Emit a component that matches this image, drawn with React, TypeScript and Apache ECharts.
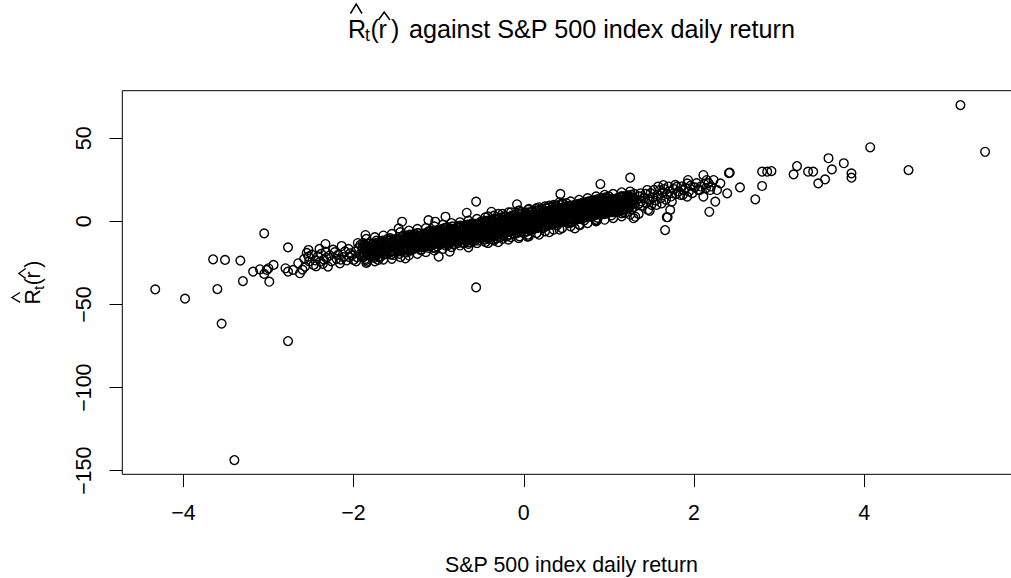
import { useEffect, useRef } from "react";
import * as echarts from "echarts";

// ---- axis ticks / texts ----
const xTicks = [-4, -2, 0, 2, 4];
const yTicks = [-150, -100, -50, 0, 50];
const titleRest = "against S&P 500 index daily return";
const xAxisTitle = "S&P 500 index daily return";

// ---- data: [S&P 500 daily return, R_hat_t(r_hat)] ----
const leftTail = [
  [-4.33, -40.9], [-3.98, -46.5], [-3.6, -40.7], [-3.55, -61.5], [-3.65, -22.8], [-3.51, -23.2],
  [-3.33, -23.6], [-3.3, -35.9], [-3.05, -7.2], [-3.18, -30.2], [-3.1, -28.8], [-3.02, -29.2],
  [-3.0, -28.2], [-2.94, -26.2], [-2.99, -36.3], [-3.05, -31.6], [-2.77, -15.6], [-2.77, -72.0],
  [-2.8, -28.2], [-2.77, -30.2], [-2.71, -29.2], [-2.63, -31.2], [-2.65, -25.2], [-2.53, -17.2],
  [-2.53, -21.2], [-2.57, -27.2], [-2.47, -26.2], [-2.39, -24.2], [-2.33, -13.6], [-2.33, -18.2],
  [-2.3, -27.2], [-2.16, -25.2], [-2.14, -14.8], [-2.04, -19.2], [-2.0, -23.2], [-1.92, -14.2],
  [-1.86, -8.2], [-1.84, -24.2], [-1.71, -23.2], [-1.43, -0.2], [-1.47, -4.2], [-1.39, -22.2],
  [-3.4, -143.6],
];

const leftBand = [
  [-2.58, -22.5], [-2.52, -24], [-2.49, -20], [-2.45, -23.5], [-2.42, -21], [-2.38, -19.5],
  [-2.36, -25.5], [-2.32, -22], [-2.28, -20.5], [-2.26, -24], [-2.22, -18.5], [-2.2, -22.5],
  [-2.18, -20], [-2.12, -21.5], [-2.1, -18], [-2.08, -23.5], [-2.06, -16.5], [-2.02, -20.5],
  [-1.98, -18], [-1.96, -21.5], [-1.94, -16], [-1.92, -19.5],
  [-2.55, -19], [-2.44, -27], [-2.35, -23], [-2.24, -17], [-2.15, -23], [-2.05, -21.5],
  [-1.97, -24], [-1.95, -13], [-2.4, -16.5], [-2.6, -29],
];

const coreLow = [
  [-1.9, -21], [-1.9, -16], [-1.88, -19], [-1.88, -14.5], [-1.86, -22.5], [-1.86, -17], [-1.84, -15],
  [-1.84, -20], [-1.82, -18.5], [-1.82, -13.5], [-1.8, -21], [-1.8, -16.5], [-1.78, -14], [-1.78, -19.5],
  [-1.76, -17], [-1.76, -22], [-1.74, -13], [-1.74, -18.5], [-1.72, -20], [-1.72, -15.5], [-1.7, -17.5],
  [-1.7, -12.5], [-1.7, -21], [-1.68, -14.5], [-1.68, -19], [-1.66, -16.5], [-1.66, -11.5], [-1.64, -20],
  [-1.64, -14], [-1.62, -17], [-1.62, -12.5], [-1.62, -19.5], [-1.6, -15], [-1.6, -10.5], [-1.58, -18.5],
  [-1.58, -13], [-1.56, -16], [-1.56, -11], [-1.56, -20], [-1.54, -14], [-1.54, -17.5], [-1.52, -12],
  [-1.52, -19], [-1.52, -15.5], [-1.5, -16.5], [-1.5, -10.5], [-1.48, -13.5], [-1.48, -18], [-1.46, -11],
  [-1.46, -15.5], [-1.46, -19.5], [-1.44, -14], [-1.44, -9.5], [-1.42, -17], [-1.42, -12], [-1.4, -15],
  [-1.4, -10], [-1.4, -18.5],
  [-1.38, -11.5], [-1.38, -15.5], [-1.38, -8.5], [-1.36, -13.5], [-1.36, -17], [-1.36, -10], [-1.34, -12],
  [-1.34, -15], [-1.34, -8], [-1.32, -10.5], [-1.32, -14], [-1.32, -17.5], [-1.3, -13], [-1.3, -9],
  [-1.3, -16], [-1.28, -11], [-1.28, -14.5], [-1.28, -7.5], [-1.26, -12.5], [-1.26, -16], [-1.26, -9.5],
  [-1.24, -10], [-1.24, -13.5], [-1.24, -15.5], [-1.24, -7], [-1.22, -12], [-1.22, -8.5], [-1.22, -15],
  [-1.2, -10.5], [-1.2, -14], [-1.2, -17], [-1.18, -12], [-1.18, -8], [-1.18, -15.5], [-1.16, -9.5],
  [-1.16, -13], [-1.16, -11], [-1.14, -14.5], [-1.14, -7], [-1.14, -10.5], [-1.12, -12], [-1.12, -9],
  [-1.12, -16], [-1.12, -6], [-1.1, -10.5], [-1.1, -13.5], [-1.1, -8], [-1.08, -11.5], [-1.08, -7.5],
  [-1.08, -14.5], [-1.06, -9], [-1.06, -12.5], [-1.06, -16], [-1.04, -10.5], [-1.04, -6.5], [-1.04, -13.5],
  [-1.02, -8], [-1.02, -11.5], [-1.02, -15], [-1.02, -5.5], [-1.0, -10], [-1.0, -13], [-1.0, -7],
];

const coreMidLeft = [
  [-0.98, -8.5], [-0.98, -11.5], [-0.98, -5.5], [-0.98, -14], [-0.96, -10], [-0.96, -7], [-0.96, -12.5],
  [-0.96, -4.5], [-0.94, -9], [-0.94, -13], [-0.94, -6], [-0.94, -11], [-0.92, -7.5], [-0.92, -10.5],
  [-0.92, -4], [-0.92, -14.5], [-0.9, -9], [-0.9, -12], [-0.9, -6.5], [-0.9, -3.5], [-0.88, -10.5],
  [-0.88, -7.5], [-0.88, -13], [-0.88, -5], [-0.86, -8], [-0.86, -11], [-0.86, -4.5], [-0.86, -12.5],
  [-0.84, -9.5], [-0.84, -6.5], [-0.84, -12], [-0.84, -3], [-0.82, -7], [-0.82, -10], [-0.82, -13.5],
  [-0.82, -5], [-0.8, -8.5], [-0.8, -11.5], [-0.8, -4.5], [-0.8, -6], [-0.78, -9.5], [-0.78, -6.5],
  [-0.78, -13], [-0.78, -3.5], [-0.76, -7], [-0.76, -10.5], [-0.76, -4], [-0.76, -12], [-0.74, -8.5],
  [-0.74, -5.5], [-0.74, -11], [-0.74, -2.5], [-0.72, -6.5], [-0.72, -9.5], [-0.72, -12.5], [-0.72, -4],
  [-0.7, -8], [-0.7, -5], [-0.7, -10.5], [-0.7, -2.5], [-0.7, -13], [-0.68, -7], [-0.68, -9.5],
  [-0.68, -4], [-0.68, -11.5], [-0.66, -5.5], [-0.66, -8.5], [-0.66, -2], [-0.66, -10], [-0.64, -7],
  [-0.64, -10.5], [-0.64, -4], [-0.64, -12.5], [-0.62, -5.5], [-0.62, -8], [-0.62, -2.5], [-0.62, -9.5],
  [-0.6, -7], [-0.6, -4], [-0.6, -10], [-0.6, -1.5], [-0.6, -12], [-0.58, -6], [-0.58, -8.5],
  [-0.58, -3], [-0.58, -10.5], [-0.56, -4.5], [-0.56, -7.5], [-0.56, -1.5], [-0.56, -9], [-0.54, -6],
  [-0.54, -9], [-0.54, -3], [-0.54, -11.5], [-0.52, -4.5], [-0.52, -7], [-0.52, -1], [-0.52, -8.5],
  [-0.5, -5.5], [-0.5, -8], [-0.5, -2.5], [-0.5, -10], [-0.5, 0],
];

const coreCenter = [
  [-0.48, -4], [-0.48, -7], [-0.48, -1.5], [-0.48, -9.5], [-0.48, -5.5], [-0.46, -6], [-0.46, -3],
  [-0.46, -8.5], [-0.46, 0], [-0.46, -11], [-0.44, -4.5], [-0.44, -7.5], [-0.44, -2], [-0.44, -9],
  [-0.44, -5], [-0.42, -3], [-0.42, -6], [-0.42, -8], [-0.42, 0.5], [-0.42, -10.5], [-0.4, -4.5],
  [-0.4, -1.5], [-0.4, -7], [-0.4, -9.5], [-0.4, -3], [-0.38, -5.5], [-0.38, -2.5], [-0.38, -8],
  [-0.38, 1], [-0.38, -4], [-0.36, -3], [-0.36, -6.5], [-0.36, -0.5], [-0.36, -9], [-0.36, -11],
  [-0.34, -4.5], [-0.34, -2], [-0.34, -7], [-0.34, 1.5], [-0.34, -5.5], [-0.32, -3], [-0.32, -5.5],
  [-0.32, -0.5], [-0.32, -8.5], [-0.32, -10], [-0.3, -4], [-0.3, -1.5], [-0.3, -6.5], [-0.3, 2],
  [-0.3, -2.5], [-0.28, -2.5], [-0.28, -5], [-0.28, 0], [-0.28, -7.5], [-0.28, -9.5], [-0.26, -3.5],
  [-0.26, -1], [-0.26, -6], [-0.26, 2.5], [-0.26, -4], [-0.24, -2], [-0.24, -4.5], [-0.24, 0.5],
  [-0.24, -7], [-0.24, -8.5], [-0.22, -3], [-0.22, -0.5], [-0.22, -5.5], [-0.22, 3], [-0.22, -1.5],
  [-0.2, -2], [-0.2, -4], [-0.2, 1], [-0.2, -6.5], [-0.2, -9], [-0.18, -3], [-0.18, 0], [-0.18, -5],
  [-0.18, 2.5], [-0.18, -1], [-0.16, -1.5], [-0.16, -4], [-0.16, 1.5], [-0.16, -6], [-0.16, -8],
  [-0.14, -2.5], [-0.14, 0.5], [-0.14, -4.5], [-0.14, 3.5], [-0.14, -1], [-0.12, -1], [-0.12, -3.5],
  [-0.12, 1.5], [-0.12, -5.5], [-0.12, -7.5], [-0.1, -2], [-0.1, 0.5], [-0.1, -4], [-0.1, 4],
  [-0.1, -1], [-0.08, -0.5], [-0.08, -3], [-0.08, 2], [-0.08, -5], [-0.08, -7], [-0.06, -1.5],
  [-0.06, 1], [-0.06, -3.5], [-0.06, 4.5], [-0.06, -0.5], [-0.04, 0], [-0.04, -2.5], [-0.04, 2.5],
  [-0.04, -4.5], [-0.04, -6.5], [-0.02, -1], [-0.02, 1.5], [-0.02, -3], [-0.02, 5], [-0.02, 0],
  [0.0, 0.5], [0.0, -2], [0.0, 2.5], [0.0, -4], [0.0, -7], [0.02, -0.5], [0.02, 2], [0.02, -2.5],
  [0.02, 5.5], [0.02, 0.5], [0.04, 1], [0.04, -1.5], [0.04, 3], [0.04, -3.5], [0.04, -6], [0.06, 0],
  [0.06, 2.5], [0.06, -2], [0.06, 5.5], [0.06, 1], [0.08, 1.5], [0.08, -1], [0.08, 3.5], [0.08, -3],
  [0.08, -5], [0.1, 0.5], [0.1, 3], [0.1, -1.5], [0.1, 6], [0.1, 1], [0.12, 2], [0.12, -0.5],
  [0.12, 4], [0.12, -2.5], [0.12, -4.5], [0.14, 1], [0.14, 3.5], [0.14, -1], [0.14, 6.5], [0.14, 0.5],
  [0.16, 2.5], [0.16, 0], [0.16, 4.5], [0.16, -2], [0.16, -4], [0.18, 1.5], [0.18, 4], [0.18, -0.5],
  [0.18, 7], [0.18, 2], [0.2, 3], [0.2, 0.5], [0.2, 5], [0.2, -1.5], [0.2, -3.5], [0.22, 2],
  [0.22, 4.5], [0.22, 0], [0.22, 7.5], [0.22, 1.5], [0.24, 3.5], [0.24, 1], [0.24, 5.5], [0.24, -1],
  [0.24, -3], [0.26, 2.5], [0.26, 5], [0.26, 0.5], [0.26, 8], [0.26, 2], [0.28, 4], [0.28, 1.5],
  [0.28, 6], [0.28, -0.5], [0.28, -2.5], [0.3, 3], [0.3, 5.5], [0.3, 1], [0.3, 8.5], [0.3, 2.5],
  [0.32, 4.5], [0.32, 2], [0.32, 6.5], [0.32, 0], [0.32, -2], [0.34, 3.5], [0.34, 6], [0.34, 1.5],
  [0.34, 9], [0.34, 3], [0.36, 5], [0.36, 2.5], [0.36, 7], [0.36, 0.5], [0.36, -1.5], [0.38, 4],
  [0.38, 6.5], [0.38, 2], [0.38, 9.5], [0.38, 3.5], [0.4, 5.5], [0.4, 3], [0.4, 7.5], [0.4, 1],
  [0.4, -1], [0.42, 4.5], [0.42, 7], [0.42, 2.5], [0.42, 10], [0.42, 4], [0.44, 6], [0.44, 3.5],
  [0.44, 8], [0.44, 1.5], [0.44, -0.5], [0.46, 5], [0.46, 7.5], [0.46, 3], [0.46, 10.5], [0.46, 4.5],
  [0.48, 6.5], [0.48, 4], [0.48, 8.5], [0.48, 2], [0.48, 0], [0.5, 5.5], [0.5, 8], [0.5, 3.5],
  [0.5, 11], [0.5, 5],
];

const coreHigh = [
  [0.52, 4], [0.52, 1.5], [0.52, 6.5], [0.52, -1], [0.54, 5.5], [0.54, 2.5], [0.54, 8.5], [0.54, 0],
  [0.56, 4], [0.56, 7], [0.56, 1.5], [0.56, 9.5], [0.58, 6], [0.58, 3], [0.58, 8], [0.58, 0.5],
  [0.6, 5], [0.6, 7.5], [0.6, 2], [0.6, 10], [0.62, 6.5], [0.62, 3.5], [0.62, 9], [0.62, 1],
  [0.64, 5], [0.64, 8], [0.64, 2.5], [0.64, 10.5], [0.66, 7], [0.66, 4], [0.66, 9.5], [0.66, 1.5],
  [0.68, 5.5], [0.68, 8.5], [0.68, 3], [0.68, 11], [0.7, 7.5], [0.7, 4.5], [0.7, 10], [0.7, 2],
  [0.72, 6], [0.72, 9], [0.72, 3.5], [0.72, 11.5], [0.74, 8], [0.74, 5], [0.74, 10.5], [0.74, 2.5],
  [0.76, 6.5], [0.76, 9.5], [0.76, 4], [0.76, 12], [0.78, 8.5], [0.78, 5.5], [0.78, 11], [0.78, 3],
  [0.8, 7], [0.8, 10], [0.8, 4.5], [0.8, 12.5], [0.82, 9], [0.82, 6], [0.82, 11.5], [0.82, 3.5],
  [0.84, 7.5], [0.84, 10.5], [0.84, 5], [0.84, 13], [0.86, 9.5], [0.86, 6.5], [0.86, 12], [0.86, 4],
  [0.88, 8], [0.88, 11], [0.88, 5.5], [0.88, 13.5], [0.9, 10], [0.9, 7], [0.9, 12.5], [0.9, 4.5],
  [0.92, 8.5], [0.92, 11.5], [0.92, 6], [0.92, 14], [0.94, 10.5], [0.94, 7.5], [0.94, 13], [0.94, 5],
  [0.96, 9], [0.96, 12], [0.96, 6.5], [0.96, 14.5], [0.98, 11], [0.98, 8], [0.98, 13.5], [0.98, 5.5],
  [1.0, 9.5], [1.0, 12.5], [1.0, 7], [1.0, 15],
  [1.02, 10], [1.02, 7], [1.02, 12.5], [1.04, 8.5], [1.04, 11.5], [1.04, 5.5], [1.06, 10.5], [1.06, 7.5],
  [1.06, 13], [1.08, 9], [1.08, 12], [1.08, 6], [1.1, 11], [1.1, 8], [1.1, 14], [1.12, 9.5],
  [1.12, 12.5], [1.12, 6.5], [1.14, 11.5], [1.14, 8.5], [1.14, 14.5], [1.16, 10], [1.16, 13], [1.16, 7],
  [1.18, 12], [1.18, 9], [1.18, 15], [1.2, 10.5], [1.2, 13.5], [1.2, 7.5], [1.22, 12.5], [1.22, 9.5],
  [1.22, 15.5], [1.24, 11], [1.24, 14], [1.24, 8], [1.26, 13], [1.26, 10], [1.26, 16], [1.28, 11.5],
  [1.28, 14.5], [1.28, 8.5], [1.3, 13.5], [1.3, 10.5], [1.3, 16.5],
];

// wider spread around the band
const coreSpread = [
  [-1.85, -10.5], [-1.85, -25], [-1.75, -24], [-1.75, -9.5], [-1.65, -8.5], [-1.65, -23], [-1.55, -22.5],
  [-1.55, -7.5], [-1.45, -6.5], [-1.45, -21.5], [-1.35, -20.5], [-1.35, -5.5], [-1.25, -4.5], [-1.25, -19.5],
  [-1.15, -18.5], [-1.15, -4], [-1.05, -3], [-1.05, -17.5], [-0.95, -16.5], [-0.95, -2], [-0.85, -1],
  [-0.85, -15.5], [-0.75, -14.5], [-0.75, -0.5], [-0.65, 0.5], [-0.65, -13.5], [-0.55, -13], [-0.55, 1.5],
  [-0.45, 2.5], [-0.45, -12.5], [-0.35, -11.5], [-0.35, 3.5], [-0.25, 4.5], [-0.25, -10.5], [-0.15, -9.5],
  [-0.15, 5.5], [-0.05, 6.5], [-0.05, -9], [0.05, -8], [0.05, 7], [0.15, 8], [0.15, -7], [0.25, -6],
  [0.25, 9], [0.35, 10], [0.35, -5], [0.45, -4], [0.45, 11], [0.55, 12], [0.55, -3], [0.65, -2],
  [0.65, 13], [0.75, 14], [0.75, -1], [0.85, 0], [0.85, 15], [0.95, 16], [0.95, 1], [1.05, 2],
  [1.05, 16.5], [1.15, 17.5], [1.15, 3], [1.25, 4], [1.25, 18],
  [-1.875, -14], [-1.875, -21], [-1.775, -20], [-1.775, -13.5], [-1.675, -12.5], [-1.675, -19],
  [-1.575, -18], [-1.575, -11.5], [-1.475, -10.5], [-1.475, -17.5], [-1.375, -16.5], [-1.375, -9.5],
  [-1.275, -8.5], [-1.275, -15.5], [-1.175, -15], [-1.175, -7.5], [-1.075, -6.5], [-1.075, -14],
  [-0.975, -13], [-0.975, -5.5], [-0.875, -4.5], [-0.875, -12], [-0.775, -11], [-0.775, -3.5],
  [-0.675, -2.5], [-0.675, -10], [-0.575, -9.5], [-0.575, -1.5], [-0.475, -0.5], [-0.475, -8.5],
  [-0.375, -7.5], [-0.375, 0.5], [-0.275, 1], [-0.275, -6.5], [-0.175, -5.5], [-0.175, 2],
  [-0.075, 3], [-0.075, -5], [0.025, -4], [0.025, 4], [0.125, 5], [0.125, -3], [0.225, -2],
  [0.225, 6], [0.325, 7], [0.325, -1], [0.425, 0], [0.425, 8], [0.525, 9], [0.525, 1], [0.625, 2],
  [0.625, 10], [0.725, 11], [0.725, 3], [0.825, 4], [0.825, 12], [0.925, 13], [0.925, 5], [1.025, 6],
  [1.025, 13.5], [1.125, 14.5], [1.125, 7], [1.225, 8], [1.225, 15.5],
  [-0.42, 3], [-0.42, -13], [-0.3, -12.5], [-0.3, 4.5], [-0.18, 5.5], [-0.18, -11], [-0.06, -10],
  [-0.06, 6.5], [0.06, 7.5], [0.06, -9], [0.18, -8], [0.18, 8.5], [0.3, 9.5], [0.3, -6.5], [0.42, -5],
  [0.42, 11.5],
];

// extra filling of the dense band
const coreFill = [
  [-1.89, -16.6], [-1.89, -21.6], [-1.89, -13.1], [-1.85, -18.7], [-1.85, -14.7], [-1.85, -23.2],
  [-1.81, -16.8], [-1.81, -19.3], [-1.81, -13.3], [-1.77, -21], [-1.77, -15], [-1.77, -17.5],
  [-1.73, -15.1], [-1.73, -20.1], [-1.73, -11.6], [-1.69, -17.2], [-1.69, -13.2], [-1.69, -21.7],
  [-1.65, -15.3], [-1.65, -17.8], [-1.65, -11.8], [-1.61, -19.5], [-1.61, -13.5], [-1.61, -16],
  [-1.57, -13.6], [-1.57, -18.6], [-1.57, -10.1], [-1.53, -15.7], [-1.53, -11.7], [-1.53, -20.2],
  [-1.49, -13.9], [-1.49, -16.4], [-1.49, -10.4], [-1.45, -18], [-1.45, -12], [-1.45, -14.5],
  [-1.41, -12.1], [-1.41, -17.1], [-1.41, -8.6], [-1.37, -14.2], [-1.37, -10.2], [-1.37, -18.7],
  [-1.33, -12.4], [-1.33, -14.9], [-1.33, -8.9], [-1.29, -16.5], [-1.29, -10.5], [-1.29, -13],
  [-1.25, -10.6], [-1.25, -15.6], [-1.25, -7.1], [-1.21, -12.8], [-1.21, -8.8], [-1.21, -17.3],
  [-1.17, -10.9], [-1.17, -13.4], [-1.17, -7.4], [-1.13, -15], [-1.13, -9], [-1.13, -11.5],
  [-1.09, -9.1], [-1.09, -14.1], [-1.09, -5.6], [-1.05, -11.3], [-1.05, -7.3], [-1.05, -15.8],
  [-1.01, -9.4], [-1.01, -11.9], [-1.01, -5.9], [-0.97, -13.5], [-0.97, -7.5], [-0.97, -10],
  [-0.93, -7.6], [-0.93, -12.6], [-0.93, -4.1], [-0.89, -9.8], [-0.89, -5.8], [-0.89, -14.3],
  [-0.85, -7.9], [-0.85, -10.4], [-0.85, -4.4], [-0.81, -12], [-0.81, -6], [-0.81, -8.5],
  [-0.77, -6.2], [-0.77, -11.2], [-0.77, -2.7], [-0.73, -8.3], [-0.73, -4.3], [-0.73, -12.8],
  [-0.69, -6.4], [-0.69, -8.9], [-0.69, -2.9], [-0.65, -10.5], [-0.65, -4.5], [-0.65, -7],
  [-0.61, -4.7], [-0.61, -9.7], [-0.61, -1.2], [-0.57, -6.8], [-0.57, -2.8], [-0.57, -11.3],
  [-0.53, -4.9], [-0.53, -7.4], [-0.53, -1.4], [-0.49, -9.1], [-0.49, -3.1], [-0.49, -5.6],
  [-0.45, -3.2], [-0.45, -8.2], [-0.45, 0.3], [-0.41, -5.3], [-0.41, -1.3], [-0.41, -9.8],
  [-0.37, -3.4], [-0.37, -5.9], [-0.37, 0.1], [-0.33, -7.6], [-0.33, -1.6], [-0.33, -4.1],
  [-0.29, -1.7], [-0.29, -6.7], [-0.29, 1.8], [-0.25, -3.8], [-0.25, 0.2], [-0.25, -8.3],
  [-0.21, -2], [-0.21, -4.5], [-0.21, 1.5], [-0.17, -6.1], [-0.17, -0.1], [-0.17, -2.6],
  [-0.13, -0.2], [-0.13, -5.2], [-0.13, 3.3], [-0.09, -2.3], [-0.09, 1.7], [-0.09, -6.8],
  [-0.05, -0.5], [-0.05, -3], [-0.05, 3], [-0.01, -4.6], [-0.01, 1.4], [-0.01, -1.1],
  [0.03, 1.3], [0.03, -3.7], [0.03, 4.8], [0.07, -0.85], [0.07, 3.15], [0.07, -5.35],
  [0.11, 1], [0.11, -1.5], [0.11, 4.5], [0.15, -3.1], [0.15, 2.9], [0.15, 0.4],
  [0.19, 2.8], [0.19, -2.2], [0.19, 6.3], [0.23, 0.6], [0.23, 4.6], [0.23, -3.9],
  [0.27, 2.5], [0.27, 0], [0.27, 6], [0.31, -1.6], [0.31, 4.4], [0.31, 1.9],
  [0.35, 4.3], [0.35, -0.7], [0.35, 7.8], [0.39, 2.1], [0.39, 6.1], [0.39, -2.4],
  [0.43, 4], [0.43, 1.5], [0.43, 7.5], [0.47, -0.1], [0.47, 5.9], [0.47, 3.4],
  [0.51, 5.7], [0.51, 0.7], [0.51, 9.2], [0.55, 3.6], [0.55, 7.6], [0.55, -0.9],
  [0.59, 5.5], [0.59, 3], [0.59, 9], [0.63, 1.4], [0.63, 7.4], [0.63, 4.9],
  [0.67, 7.2], [0.67, 2.2], [0.67, 10.7], [0.71, 5.1], [0.71, 9.1], [0.71, 0.6],
  [0.75, 7], [0.75, 4.5], [0.75, 10.5], [0.79, 2.9], [0.79, 8.9], [0.79, 6.4],
  [0.83, 8.7], [0.83, 3.7], [0.83, 12.2], [0.87, 6.6], [0.87, 10.6], [0.87, 2.1],
  [0.91, 8.5], [0.91, 6], [0.91, 12], [0.95, 4.3], [0.95, 10.3], [0.95, 7.8],
  [0.99, 10.2], [0.99, 5.2], [0.99, 13.7], [1.03, 8.1], [1.03, 12.1], [1.03, 3.6],
  [1.07, 10], [1.07, 7.5], [1.07, 13.5], [1.11, 5.8], [1.11, 11.8], [1.11, 9.3],
  [1.15, 11.7], [1.15, 6.7], [1.15, 15.2], [1.19, 9.6], [1.19, 13.6], [1.19, 5.1],
  [1.23, 11.4], [1.23, 8.9], [1.23, 14.9], [1.27, 7.3], [1.27, 13.3], [1.27, 10.8],
];

const scatteredMid = [
  [-0.56, -39.7], [-0.56, 11.9], [0.43, 16.5], [-0.08, 10.3], [-0.67, 5.2], [-1.12, 0.8], [-0.92, 2.8],
  [-1.04, -0.2], [-1.0, -21.2], [-0.87, -18.2], [-0.65, -15.6], [-0.38, 5.8], [0.04, -9.2], [0.6, -4.2],
  [0.86, 0.8], [1.29, 1.9], [1.35, 4.5], [1.48, 6.4], [1.68, 2.5],
];

const rightBand = [
  [2.18, 5.8], [2.25, 11.9], [2.11, 27.9], [1.25, 26.3], [0.9, 22.5], [1.66, -5.2], [1.69, 2.5],
  [1.72, 6.9], [1.31, 2.8], [1.46, 6.9], [1.15, 4.9], [0.84, 0.8], [0.66, -2.2], [2.39, 16.9],
  [2.31, 22.9], [2.23, 24.9], [2.15, 24.9], [2.19, 18.9], [2.27, 18.9], [2.07, 18.9], [2.11, 14.9],
  [1.92, 22.9], [1.93, 24.9], [1.88, 18.9], [1.92, 14.9], [1.8, 20.9], [1.74, 11.9], [1.84, 15.9],
  [1.64, 21.9], [1.6, 18.9], [1.56, 9.9], [1.62, 10.9], [1.45, 18.9], [1.37, 16.9], [1.29, 12.9],
  [1.48, 12.9], [1.17, 5.8],
  [1.33, 13], [1.35, 10.5], [1.36, 15], [1.38, 12], [1.4, 9.5], [1.41, 14], [1.43, 16.5], [1.44, 11],
  [1.47, 13.5], [1.49, 17], [1.5, 10], [1.52, 14.5], [1.53, 19], [1.55, 12.5], [1.57, 16], [1.58, 21],
  [1.61, 14], [1.63, 17.5], [1.65, 19.5], [1.67, 13], [1.68, 16.5], [1.7, 21], [1.71, 18], [1.73, 15],
  [1.76, 19.5], [1.78, 22], [1.79, 16.5], [1.82, 18], [1.85, 21], [1.87, 16], [1.9, 20], [1.94, 18],
  [1.96, 21.5], [1.98, 17], [2.01, 20.5], [2.03, 23], [2.05, 19], [2.08, 21], [2.12, 22.5], [2.14, 20],
  [2.17, 23], [2.2, 21],
];

const rightTail = [
  [5.13, 70.0], [5.42, 41.9], [4.07, 44.6], [4.52, 30.9], [3.58, 38.0], [3.76, 35.0], [3.62, 31.3],
  [3.85, 28.9], [3.85, 26.3], [3.54, 25.3], [3.46, 22.9], [3.4, 29.9], [3.34, 29.9], [3.21, 33.3],
  [3.17, 28.3], [2.91, 30.3], [2.86, 29.9], [2.8, 29.9], [2.8, 21.3], [2.72, 13.3], [2.54, 20.5],
  [2.42, 29.3], [2.41, 29.1],
];

const FONT = '"Liberation Sans", Arial, Helvetica, sans-serif';

function txt(text: string, x: number, y: number, fontSize: number) {
  return {
    type: "text",
    x,
    y,
    silent: true,
    style: {
      text,
      fontSize,
      fontFamily: FONT,
      fill: "#000",
      align: "left",
      textAlign: "left",
      verticalAlign: "middle",
      textVerticalAlign: "middle",
    },
  };
}

function hat(points: number[][], w: number) {
  return {
    type: "polyline",
    silent: true,
    shape: { points },
    style: { stroke: "#000", lineWidth: w, fill: null },
  };
}

export default function App() {
  const ref = useRef<HTMLDivElement>(null);

  useEffect(() => {
    if (!ref.current) return;
    const chart = echarts.init(ref.current, null, { renderer: "svg" });
    const fmt = (v: number) => (v < 0 ? "\u2212" + Math.abs(v) : String(v));
    const allPoints = [
      ...leftTail,
      ...leftBand,
      ...coreLow,
      ...coreMidLeft,
      ...coreCenter,
      ...coreHigh,
      ...coreSpread,
      ...coreFill,
      ...scatteredMid,
      ...rightBand,
      ...rightTail,
    ];

    const TF = 25;
    const tMid = 37.3 - 0.35 * TF;
    const titleGroup = {
      type: "group",
      children: [
        txt("R", 348, tMid, TF),
        hat([[350.5, 13.5], [356.2, 4], [362, 13.5]], 1.5),
        txt("t", 365, 41.5 - 0.35 * 17.5, 17.5),
        txt("(", 370.5, tMid, TF),
        txt("r", 378.5, tMid, TF),
        hat([[378.5, 20], [384.2, 12], [390, 20]], 1.5),
        txt(")", 391, tMid, TF),
        txt(titleRest, 409, tMid, 25.2),
      ],
    };

    const YF = 21.4;
    const yMid = -0.35 * YF;
    const yTitle = {
      type: "group",
      x: 40.5,
      y: 282.5 + 22,
      rotation: Math.PI / 2,
      children: [
        txt("R", 0, yMid, YF),
        hat([[2.1, -20.4], [7, -28.5], [12, -20.4]], 1.3),
        txt("t", 14.6, 3.6 - 0.35 * 15, 15),
        txt("(", 19.3, yMid, YF),
        txt("r", 26.1, yMid, YF),
        hat([[26.1, -14.8], [31, -21.7], [36, -14.8]], 1.3),
        txt(")", 36.8, yMid, YF),
      ],
    };

    const xTitle = {
      type: "text",
      x: 571.5,
      y: 572 - 0.35 * YF,
      silent: true,
      style: {
        text: xAxisTitle,
        fontSize: YF,
        fontFamily: FONT,
        fill: "#000",
        align: "center",
        textAlign: "center",
        verticalAlign: "middle",
        textVerticalAlign: "middle",
      },
    };

    chart.setOption({
      animation: false,
      backgroundColor: "#fff",
      textStyle: { fontFamily: FONT },
      grid: {
        left: 122.3,
        top: 90.7,
        width: 896,
        height: 383.6,
        show: true,
        borderColor: "#000",
        borderWidth: 1,
        backgroundColor: "transparent",
        containLabel: false,
        outerBoundsMode: "none",
      },
      xAxis: {
        type: "value",
        min: -4.717,
        max: 5.81,
        axisLine: { show: false, onZero: false },
        splitLine: { show: false },
        axisTick: {
          show: true,
          length: 12.8,
          customValues: xTicks,
          lineStyle: { color: "#000", width: 1 },
        },
        axisLabel: {
          show: true,
          customValues: xTicks,
          formatter: fmt,
          fontSize: YF,
          fontFamily: FONT,
          color: "#000",
          margin: 28,
        },
      },
      yAxis: {
        type: "value",
        min: -152.17,
        max: 78.64,
        axisLine: { show: false, onZero: false },
        splitLine: { show: false },
        axisTick: {
          show: true,
          length: 12.8,
          customValues: yTicks,
          lineStyle: { color: "#000", width: 1 },
        },
        axisLabel: {
          show: true,
          customValues: yTicks,
          formatter: fmt,
          rotate: 90,
          fontSize: YF,
          fontFamily: FONT,
          color: "#000",
          margin: 27.6,
        },
      },
      graphic: { elements: [titleGroup, yTitle, xTitle] },
      series: [
        {
          type: "scatter",
          data: allPoints,
          symbol: "circle",
          symbolSize: 8.7,
          silent: true,
          large: false,
          progressive: 0,
          itemStyle: {
            color: "rgba(0,0,0,0)",
            borderColor: "#000",
            borderWidth: 1.4,
            opacity: 1,
          },
          emphasis: { disabled: true },
        },
      ],
    });

    return () => chart.dispose();
  }, []);

  return (
    <div
      ref={ref}
      style={{ position: "absolute", left: 0, top: 0, width: 1011, height: 578, background: "#fff" }}
    />
  );
}
